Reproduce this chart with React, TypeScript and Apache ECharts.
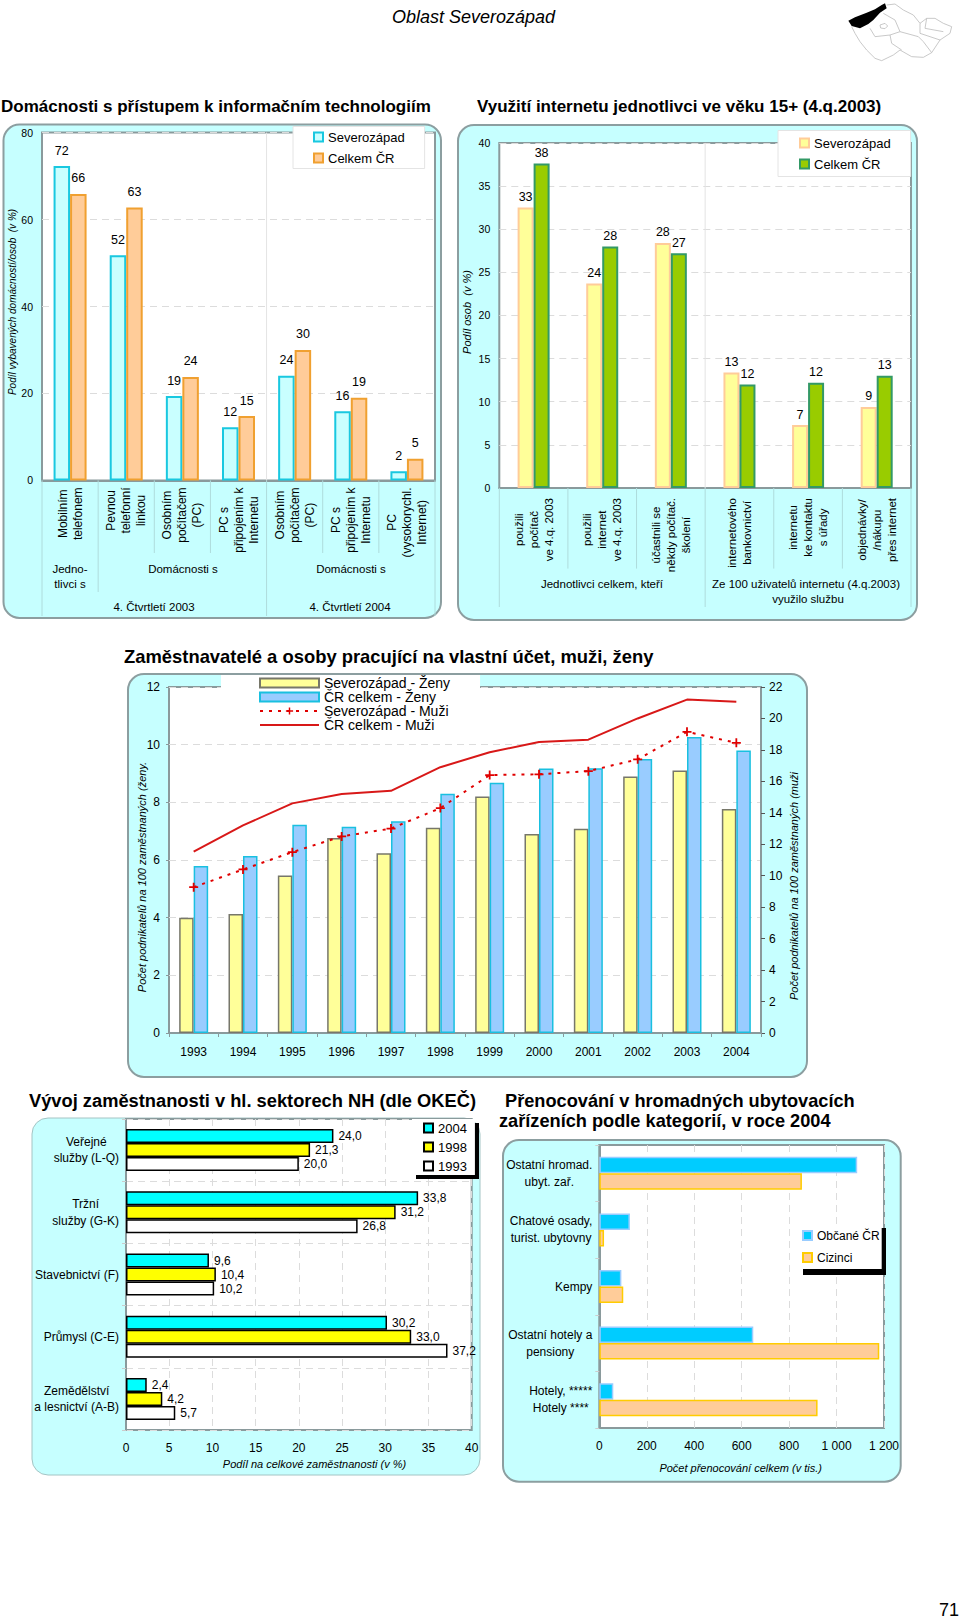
import React, { useEffect, useRef } from "react";
import * as echarts from "echarts";

const hhCategories = ["Mobilním\ntelefonem", "Pevnou\ntelefonní\nlinkou", "Osobním\npočítačem\n(PC)", "PC s\npřipojením k\nInternetu", "Osobním\npočítačem\n(PC)", "PC s\npřipojením k\nInternetu", "PC\n(vysokorychl.\nInternet)"];
const hhNorthWest = [72.3, 51.8, 19.4, 12.2, 24.1, 15.9, 2.1];
const hhCzechia = [65.9, 62.8, 23.8, 14.8, 30, 19, 5];

const netCategories = ["použili\npočítač\nve 4.q. 2003", "použili\ninternet\nve 4.q. 2003", "účastnili se\nněkdy počítač.\nškolení", "internetového\nbankovnictví", "internetu\nke kontaktu\ns úřady", "objednávky/\n/nákupu\npřes internet"];
const netNorthWest = [32.5, 23.7, 28.4, 13.4, 7.3, 9.4];
const netCzechia = [37.6, 28, 27.2, 12, 12.2, 13];

const years = ["1993", "1994", "1995", "1996", "1997", "1998", "1999", "2000", "2001", "2002", "2003", "2004"];
const womenNorthWest = [4.0, 4.13, 5.46, 6.76, 6.23, 7.12, 8.2, 6.9, 7.08, 8.9, 9.1, 7.77];
const womenCzechia = [5.79, 6.14, 7.22, 7.15, 7.34, 8.3, 8.68, 9.17, 9.18, 9.5, 10.27, 9.8];
const menNorthWest = [9.27, 10.4, 11.5, 12.5, 13.0, 14.3, 16.4, 16.45, 16.65, 17.4, 19.15, 18.45];
const menCzechia = [11.53, 13.2, 14.6, 15.2, 15.4, 16.9, 17.85, 18.5, 18.65, 20, 21.2, 21.07];

const sectors = ["Veřejné\nslužby (L-Q)", "Tržní\nslužby (G-K)", "Stavebnictví (F)", "Průmysl (C-E)", "Zemědělství\na lesnictví (A-B)"];
const emp2004 = [24.0, 33.8, 9.6, 30.2, 2.4];
const emp1998 = [21.3, 31.2, 10.4, 33.0, 4.2];
const emp1993 = [20.0, 26.8, 10.2, 37.2, 5.7];

const lodgings = ["Ostatní hromad.\nubyt. zař.", "Chatové osady,\nturist. ubytovny", "Kempy", "Ostatní hotely a\npensiony", "Hotely, *****\nHotely ****"];
const nightsCitizens = [1087, 129, 93, 649, 59];
const nightsForeigners = [854, 20, 101, 1180, 920];

const FONT = '"Liberation Sans", Arial, sans-serif';
const AXIS_GRAY = "#8a9a9c";
const PANEL = "#c6ffff";
const SEP = "#aedcdc";
const DASH = "#dcdcdc";

const txt = (text: string, x: number, y: number, o: any = {}) => ({
  type: "text",
  x,
  y,
  z: 6,
  rotation: o.rotation || 0,
  style: {
    text,
    fill: o.fill || "#000",
    fontFamily: FONT,
    fontSize: o.size || 11.5,
    fontWeight: o.bold ? "bold" : "normal",
    fontStyle: o.italic ? "italic" : "normal",
    textAlign: o.align || "center",
    textVerticalAlign: "middle",
  },
});
const vtxt = (text: string, x: number, y: number, size = 11) =>
  txt(text, x, y, { size, italic: true, rotation: Math.PI / 2 });
const panel = (x1: number, y1: number, x2: number, y2: number, stroke = "#8c9ea0", lineWidth = 2) => ({
  type: "rect",
  z: -1,
  shape: { x: x1, y: y1, width: x2 - x1, height: y2 - y1, r: 16 },
  style: { fill: PANEL, stroke, lineWidth },
});
const vline = (x: number, y1: number, y2: number, stroke = SEP) => ({
  type: "line",
  z: 1,
  shape: { x1: x, y1, x2: x, y2 },
  style: { stroke, lineWidth: 1 },
});
const shadow = (x: number, y: number, w: number, h: number) => ({
  type: "rect",
  z: 3,
  shape: { x, y, width: w, height: h },
  style: { fill: "#000" },
});

const G1 = { left: 42, top: 132.6, width: 393, height: 347.8 };
const G2 = { left: 499.3, top: 142.9, width: 411.7, height: 345.1 };
const G3 = { left: 169, top: 687, width: 592, height: 346 };
const G4 = { left: 126, top: 1119, width: 345.7, height: 311 };
const G5 = { left: 599.3, top: 1145, width: 284.7, height: 283 };

const centered = (v: string) => v.split("\n").map((l) => `{c|${l}}`).join("\n");
const catLabelRich = (size: number, lh: number) => ({
  c: { align: "center", fontSize: size, lineHeight: lh, fontFamily: FONT, color: "#000" },
});

const baseGrid = (g: any) => ({
  ...g,
  show: true,
  containLabel: false,
  backgroundColor: "#fff",
  borderColor: AXIS_GRAY,
  borderWidth: 2,
});
const splitDash = { show: true, lineStyle: { color: DASH, type: [7, 5], width: 1 } };
const grayLine = { show: true, lineStyle: { color: AXIS_GRAY, width: 2 } };

const vertCat = (gridIndex: number, data: string[], margin: number, size: number) => ({
  type: "category",
  gridIndex,
  data,
  axisTick: { show: false },
  axisLine: grayLine,
  axisLabel: {
    interval: 0,
    rotate: 90,
    margin,
    formatter: centered,
    rich: catLabelRich(size, 15),
    fontFamily: FONT,
  },
});
const valAxis = (gridIndex: number, max: number, interval: number, extra: any = {}) => ({
  type: "value",
  gridIndex,
  min: 0,
  max,
  interval,
  axisLine: { show: false },
  axisTick: { show: false },
  splitLine: splitDash,
  axisLabel: { color: "#000", fontFamily: FONT, fontSize: 12, margin: 9 },
  ...extra,
});
const smallTicks = { axisLabel: { color: "#000", fontFamily: FONT, fontSize: 10.5, margin: 9 } };
const roundLabel = (distance: number) => ({
  show: true,
  position: "top",
  distance,
  color: "#000",
  fontFamily: FONT,
  fontSize: 12.5,
  formatter: (p: any) => String(Math.round(p.value)),
});
const decimalLabel = {
  show: true,
  position: "right",
  distance: 5,
  color: "#000",
  fontFamily: FONT,
  fontSize: 12,
  formatter: (p: any) => p.value.toFixed(1).replace(".", ","),
};
const thousands = (v: number) => (v >= 1000 ? `${Math.floor(v / 1000)} ${String(v % 1000).padStart(3, "0")}` : String(v));

const S1A = { color: "#c9ffff", borderColor: "#19c8e0", borderWidth: 2 };
const S1B = { color: "#ffcc99", borderColor: "#f0a030", borderWidth: 2 };
const S2A = { color: "#ffff99", borderColor: "#ffcc99", borderWidth: 2 };
const S2B = { color: "#99cc00", borderColor: "#339966", borderWidth: 2 };
const S3A = { color: "#ffff99", borderColor: "#77776a", borderWidth: 1.5 };
const S3B = { color: "#99ccff", borderColor: "#19c0e0", borderWidth: 1.5 };
const S4A = { color: "#00ffff", borderColor: "#000", borderWidth: 1.5 };
const S4B = { color: "#ffff00", borderColor: "#000", borderWidth: 1.5 };
const S4C = { color: "#ffffff", borderColor: "#000", borderWidth: 1.5 };
const S5A = { color: "#00ccff", borderColor: "#99ccff", borderWidth: 1.5 };
const S5B = { color: "#ffcc99", borderColor: "#ffcc00", borderWidth: 1.5 };

const MEN_NW = { color: "#e00000", type: [3, 6], width: 2 };
const MEN_CR = { color: "#d81818", width: 2 };
const PLUS = "path://M4 0h2v4h4v2H6v4H4V6H0V4h4z";

const legendBase = { orient: "vertical", selectedMode: false, backgroundColor: "#fff", align: "left", icon: "rect" };

const mapBlack = [[25, 62], [45, 52], [80, 38], [105, 28], [125, 15], [135, 10], [140, 25], [120, 38], [100, 60], [85, 72], [60, 85], [35, 78]];
const mapOutline = [[35, 80], [45, 100], [60, 125], [80, 150], [105, 175], [125, 182], [160, 165], [180, 150], [215, 170], [250, 172], [275, 158], [300, 120], [330, 100], [335, 80], [310, 70], [285, 55], [260, 55], [240, 70], [220, 45], [190, 30], [165, 12], [140, 15]];
const mapInner = [
  [[90, 85], [105, 110], [150, 105], [180, 95], [165, 60], [130, 40]],
  [[180, 95], [235, 110], [250, 125], [275, 158]],
  [[150, 105], [155, 130], [185, 150]],
  [[240, 70], [240, 100], [300, 120]],
  [[260, 55], [255, 85], [310, 95]],
  [[120, 75], [135, 70], [143, 78], [135, 86], [122, 84], [120, 75]],
];
const toPage = (pts: number[][]) => pts.map(([x, y]) => [840 + x / 3, y / 3]);

function buildOption() {
  const elements: any[] = [];
  const mapLine = { stroke: "#bbb", lineWidth: 0.8, fill: null };

  // header
  elements.push(txt("Oblast Severozápad", 392, 17, { size: 18, italic: true, align: "left" }));
  elements.push({ type: "polyline", z: 1, shape: { points: toPage(mapOutline) }, style: mapLine });
  mapInner.forEach((p) => elements.push({ type: "polyline", z: 1, shape: { points: toPage(p) }, style: mapLine }));
  elements.push({ type: "polygon", z: 2, shape: { points: toPage(mapBlack) }, style: { fill: "#000" } });
  elements.push(txt("71", 959, 1610, { size: 18, align: "right" }));

  // chart 1
  elements.push(txt("Domácnosti s přístupem k informačním technologiím", 1, 106, { size: 17, bold: true, align: "left" }));
  elements.push(panel(3.5, 124.5, 441, 618));
  elements.push(vtxt("Podíl vybavených domácností/osob  (v %)", 12, 302, 10));
  const step1 = G1.width / 7;
  const depth1 = [616, 592, 553, 553, 616, 553, 553, 616];
  depth1.forEach((d, i) => elements.push(vline(G1.left + i * step1, G1.top + G1.height, d)));
  elements.push(vline(G1.left + 4 * step1, G1.top, G1.top + G1.height, "#e4e4e4"));
  elements.push(txt("Jedno-", 70, 568.6));
  elements.push(txt("tlivci s", 70, 584));
  elements.push(txt("Domácnosti s", 183, 568.6));
  elements.push(txt("Domácnosti s", 351, 568.6));
  elements.push(txt("4. Čtvrtletí 2003", 154, 607));
  elements.push(txt("4. Čtvrtletí 2004", 350, 607));

  // chart 2
  elements.push(txt("Využití internetu jednotlivci ve věku 15+ (4.q.2003)", 477, 106, { size: 17, bold: true, align: "left" }));
  elements.push(panel(458, 125, 917, 620));
  elements.push(vtxt("Podíl osob  (v %)", 467, 312));
  const step2 = G2.width / 6;
  const depth2 = [607, 568.6, 568.6, 607, 568.6, 568.6, 607];
  depth2.forEach((d, i) => elements.push(vline(G2.left + i * step2, G2.top + G2.height, d)));
  elements.push(vline(G2.left + 3 * step2, G2.top, G2.top + G2.height, "#e4e4e4"));
  elements.push(txt("Jednotlivci celkem, kteří", 602, 584));
  elements.push(txt("Ze 100 uživatelů internetu (4.q.2003)", 806, 584));
  elements.push(txt("využilo službu", 808, 599));

  // chart 3
  elements.push(txt("Zaměstnavatelé a osoby pracující na vlastní účet, muži, ženy", 124, 656, { size: 18.4, bold: true, align: "left" }));
  elements.push(panel(128, 674, 807, 1077));
  elements.push(vtxt("Počet podnikatelů na 100 zaměstnaných (ženy.", 142, 877, 11));
  elements.push(vtxt("Počet podnikatelů na 100 zaměstnaných (muži", 794, 886, 11));

  // chart 4
  elements.push(txt("Vývoj zaměstnanosti v hl. sektorech NH (dle OKEČ)", 29, 1100.7, { size: 18.3, bold: true, align: "left" }));
  elements.push(panel(32, 1118, 480, 1475, "#a4c4c4", 1));
  elements.push(txt("Podíl na celkové zaměstnanosti (v %)", 314.5, 1464, { size: 11, italic: true }));
  elements.push(shadow(416, 1123, 63, 56));

  // chart 5
  elements.push(txt("Přenocování v hromadných ubytovacích", 505, 1101, { size: 18.2, bold: true, align: "left" }));
  elements.push(txt("zařízeních podle kategorií, v roce 2004", 499, 1121, { size: 18.2, bold: true, align: "left" }));
  elements.push(panel(503, 1140, 900.7, 1481.7));
  elements.push(txt("Počet přenocování celkem (v tis.)", 740.7, 1468, { size: 11, italic: true }));
  elements.push(shadow(803, 1228, 83, 47));

  const bar1 = { type: "bar", xAxisIndex: 0, yAxisIndex: 0, barWidth: 16.5, barGap: 0, label: roundLabel(9) };
  const bar2 = { type: "bar", xAxisIndex: 1, yAxisIndex: 1, barWidth: 16, barGap: 0, label: roundLabel(4) };
  const bar3 = { type: "bar", xAxisIndex: 2, yAxisIndex: 2, barWidth: 14.5, barGap: 0 };
  const bar4 = { type: "bar", xAxisIndex: 3, yAxisIndex: 4, barWidth: 14, barGap: 0, label: decimalLabel };
  const bar5 = { type: "bar", xAxisIndex: 4, yAxisIndex: 5, barWidth: 16.5, barGap: 0 };

  return {
    animation: false,
    backgroundColor: "#fff",
    textStyle: { fontFamily: FONT },
    grid: [G1, G2, G3, G4, G5].map(baseGrid),
    xAxis: [
      vertCat(0, hhCategories, 7, 12),
      vertCat(1, netCategories, 10, 11.5),
      {
        type: "category",
        gridIndex: 2,
        data: years,
        axisLine: grayLine,
        axisTick: { show: true, length: 4, lineStyle: { color: AXIS_GRAY } },
        axisLabel: { interval: 0, color: "#000", fontFamily: FONT, fontSize: 12, margin: 13 },
      },
      valAxis(3, 40, 5, { axisLabel: { color: "#000", fontFamily: FONT, fontSize: 12, margin: 12 } }),
      valAxis(4, 1200, 200, { axisLabel: { color: "#000", fontFamily: FONT, fontSize: 12, margin: 12, formatter: thousands } }),
    ],
    yAxis: [
      valAxis(0, 80, 20, smallTicks),
      valAxis(1, 40, 5, smallTicks),
      valAxis(2, 12, 2, { axisTick: { show: true, length: 3, lineStyle: { color: AXIS_GRAY } } }),
      valAxis(2, 22, 2, {
        position: "right",
        splitLine: { show: false },
        axisLine: grayLine,
        axisTick: { show: true, length: 4, lineStyle: { color: "#555" } },
        axisLabel: { color: "#000", fontFamily: FONT, fontSize: 12, margin: 8 },
      }),
      {
        type: "category",
        gridIndex: 3,
        data: sectors,
        inverse: true,
        axisLine: grayLine,
        axisTick: { show: true, length: 4, lineStyle: { color: "#ccc" } },
        splitLine: splitDash,
        axisLabel: { interval: 0, margin: 7, formatter: centered, rich: catLabelRich(12, 16.5), fontFamily: FONT },
      },
      {
        type: "category",
        gridIndex: 4,
        data: lodgings,
        inverse: true,
        axisLine: grayLine,
        axisTick: { show: true, length: 4, lineStyle: { color: "#ccc" } },
        axisLabel: { interval: 0, margin: 7, formatter: centered, rich: catLabelRich(12, 17), fontFamily: FONT },
      },
    ],
    legend: [
      {
        ...legendBase,
        left: 293,
        top: 126.5,
        padding: [4, 20, 4, 20],
        itemWidth: 9,
        itemHeight: 9,
        itemGap: 8,
        borderColor: "#e4e4e4",
        borderWidth: 1,
        textStyle: { fontFamily: FONT, fontSize: 13, color: "#000" },
        data: [{ name: "Severozápad", itemStyle: S1A }, { name: "Celkem ČR", itemStyle: S1B }],
      },
      {
        ...legendBase,
        left: 778,
        top: 130.5,
        padding: [6, 20, 6, 21],
        itemWidth: 9,
        itemHeight: 9,
        itemGap: 8,
        borderColor: "#e4e4e4",
        borderWidth: 1,
        textStyle: { fontFamily: FONT, fontSize: 13, color: "#000" },
        data: [{ name: "Severozápad", itemStyle: S2A }, { name: "Celkem ČR", itemStyle: S2B }],
      },
      {
        ...legendBase,
        icon: undefined,
        left: 221,
        top: 675,
        padding: [1, 30, 1, 38],
        itemWidth: 59,
        itemHeight: 9,
        itemGap: 0,
        textStyle: { fontFamily: FONT, fontSize: 14, lineHeight: 13.4, color: "#000" },
        data: [
          { name: "Severozápad - Ženy", icon: "rect" },
          { name: "ČR celkem - Ženy", icon: "rect" },
          { name: "Severozápad - Muži" },
          { name: "ČR celkem - Muži", itemStyle: { color: "transparent", borderWidth: 0 } },
        ],
      },
      {
        ...legendBase,
        left: 412,
        top: 1119,
        padding: [2.5, 8, 2.5, 11],
        itemWidth: 9,
        itemHeight: 9,
        itemGap: 6,
        textStyle: { fontFamily: FONT, fontSize: 13, color: "#000" },
        data: ["2004", "1998", "1993"],
      },
      {
        ...legendBase,
        left: 799,
        top: 1224,
        padding: [5.5, 2, 5.5, 3],
        itemWidth: 9,
        itemHeight: 9,
        itemGap: 10,
        textStyle: { fontFamily: FONT, fontSize: 12, color: "#000" },
        data: ["Občané ČR", "Cizinci"],
      },
    ],
    graphic: { elements },
    series: [
      { ...bar1, name: "Severozápad", data: hhNorthWest, itemStyle: S1A },
      { ...bar1, name: "Celkem ČR", data: hhCzechia, itemStyle: S1B },
      { ...bar2, name: "Severozápad", data: netNorthWest, itemStyle: S2A },
      { ...bar2, name: "Celkem ČR", data: netCzechia, itemStyle: S2B },
      { ...bar3, name: "Severozápad - Ženy", data: womenNorthWest, itemStyle: S3A },
      { ...bar3, name: "ČR celkem - Ženy", data: womenCzechia, itemStyle: S3B },
      {
        type: "line",
        name: "Severozápad - Muži",
        xAxisIndex: 2,
        yAxisIndex: 3,
        data: menNorthWest,
        symbol: PLUS,
        symbolSize: 9,
        itemStyle: { color: "#e00000" },
        lineStyle: MEN_NW,
      },
      {
        type: "line",
        name: "ČR celkem - Muži",
        xAxisIndex: 2,
        yAxisIndex: 3,
        data: menCzechia,
        symbol: "none",
        itemStyle: { color: "#d81818" },
        lineStyle: MEN_CR,
      },
      { ...bar4, name: "2004", data: emp2004, itemStyle: S4A },
      { ...bar4, name: "1998", data: emp1998, itemStyle: S4B },
      { ...bar4, name: "1993", data: emp1993, itemStyle: S4C },
      { ...bar5, name: "Občané ČR", data: nightsCitizens, itemStyle: S5A },
      { ...bar5, name: "Cizinci", data: nightsForeigners, itemStyle: S5B },
    ],
  };
}

export default function App() {
  const ref = useRef<HTMLDivElement>(null);
  useEffect(() => {
    document.body.style.margin = "0";
    const chart = echarts.init(ref.current as HTMLDivElement, undefined, { renderer: "svg" });
    chart.setOption(buildOption() as any);
    return () => chart.dispose();
  }, []);
  return <div ref={ref} style={{ width: 960, height: 1620 }} />;
}
